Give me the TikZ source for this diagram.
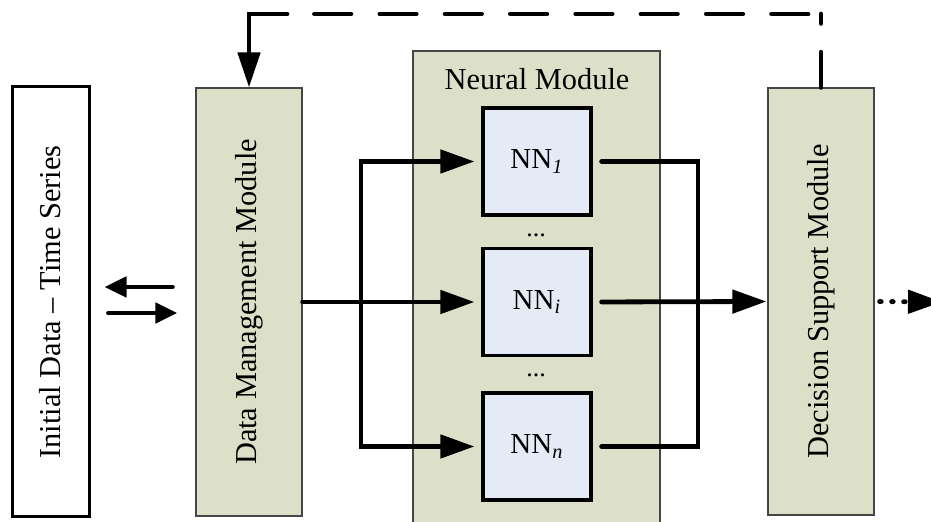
\documentclass[tikz,border=0pt]{standalone}
\usepackage{fontspec}
\setmainfont{Liberation Serif}
\usetikzlibrary{arrows.meta,calc}
\definecolor{modfill}{RGB}{221,224,200}
\definecolor{nnfill}{RGB}{228,234,246}
\definecolor{modline}{RGB}{70,70,70}
\begin{document}
\begin{tikzpicture}[x=0.5pt,y=-0.5pt,
  modbox/.style={rectangle, draw=modline, line width=0.6pt, fill=modfill, inner sep=0pt},
  initbox/.style={rectangle, draw=black, line width=1.5pt, fill=white, inner sep=0pt},
  nnbox/.style={rectangle, draw=black, line width=1.6pt, fill=nnfill, inner sep=0pt,
    minimum width=54pt, minimum height=53.5pt, font=\fontsize{14.5}{17}\selectfont},
  vlabel/.style={rotate=90, inner sep=0pt, font=\fontsize{15.2}{18}\selectfont},
  hlabel/.style={inner sep=0pt, font=\fontsize{15.2}{18}\selectfont},
  dotslabel/.style={inner sep=0pt, font=\fontsize{13}{15}\selectfont},
  conn/.style={line width=2.4pt, line cap=round, line join=miter},
  arr/.style={conn, -{Triangle[length=17pt,width=11.5pt]}},
  sarr/.style={conn, -{Triangle[length=11pt,width=10pt]}},
  fbarr/.style={conn, -{Triangle[length=17.5pt,width=11pt]}},
  fbdash/.style={conn, dash pattern=on 18.2pt off 14.45pt},
  fbvdash/.style={conn, dash pattern=on 17.6pt off 14.4pt},
  dotarr/.style={conn, dash pattern=on 0.8pt off 5.2pt, -{Triangle[length=17pt,width=11.5pt]}}]
\useasboundingbox (0,0) rectangle (931,522);

% modules
\node[initbox, minimum width=38.5pt, minimum height=215pt] (init) at (50.5,302) {};
\node[vlabel] (initlbl) at (init.center) {Initial Data -- Time Series};

\node[modbox, minimum width=53pt, minimum height=214pt] (dm) at (249,302) {};
\node[vlabel] (dmlbl) at (dm.center) {Data Management Module};

\node[modbox, minimum width=123.5pt, minimum height=246pt] (nm) at (536.5,297) {};
\node[hlabel] (nmlbl) at (537,79) {Neural Module};

\node[nnbox] (nn1) at (537,161.5) {NN\textsubscript{\textit{1}}};
\node[nnbox] (nni) at (537,302) {NN\textsubscript{\textit{i}}};
\node[nnbox] (nnn) at (537,446.5) {NN\textsubscript{\textit{n}}};
\node[dotslabel] (dots1) at (536,235) {...};
\node[dotslabel] (dots2) at (536,375) {...};

\node[modbox, minimum width=53pt, minimum height=213.5pt] (ds) at (821,301.5) {};
\node[vlabel] (dslbl) at (ds.center) {Decision Support Module};

% exchange arrows between initial data and data management
\draw[sarr] ($(dm.west)+(-23,-15)$) -- ($(init.east)+(14,-15)$);
\draw[sarr] ($(init.east)+(18,11)$) -- ($(dm.west)+(-18,11)$);

% inputs to neural networks
\coordinate (split) at (361,302);
\draw[arr, shorten >=3.5pt] (dm.east) -- (nni.west);
\draw[arr, shorten >=3.5pt] (split) |- (nn1.west);
\draw[arr, shorten >=3.5pt] (split) |- (nnn.west);

% outputs of neural networks
\coordinate (join) at (698,302);
\draw[conn, shorten <=4.5pt] (nn1.east) -| (join);
\draw[conn, shorten <=4.5pt] (nnn.east) -| (join);
\draw[arr, shorten <=4.5pt, shorten >=0.5pt] (nni.east) -- (ds.west);

% output of decision support
\coordinate (outtip) at (942,302);
\draw[dotarr, shorten <=2.5pt] (ds.east) -- (outtip);

% feedback loop
\coordinate (fbR) at (821,14);
\coordinate (fbRh) at (808,14);
\coordinate (fbM) at (290,14);
\coordinate (fbMs) at (287,14);
\coordinate (fbL) at (249,14);
\draw[fbvdash] (ds.north) -- (fbR);
\draw[fbdash] (fbRh) -- (fbM);
\draw[fbarr] (fbMs) -- (fbL) -- (dm.north);
\end{tikzpicture}
\end{document}
